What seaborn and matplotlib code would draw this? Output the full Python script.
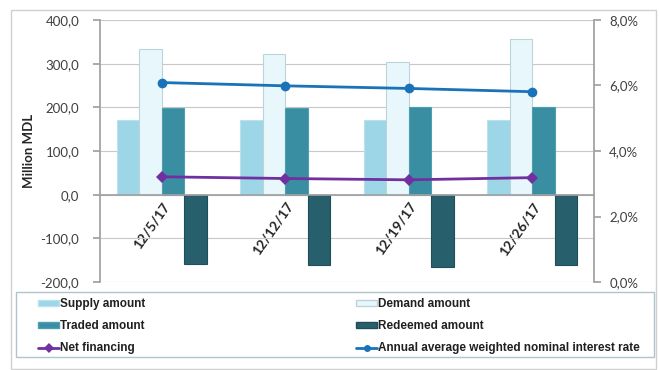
import matplotlib
matplotlib.use("Agg")
import matplotlib.pyplot as plt
from matplotlib.ticker import FuncFormatter, FixedLocator
from matplotlib.patches import Rectangle
from matplotlib.lines import Line2D
import seaborn as sns
import pandas as pd

# Auction results by settlement date
dates = ["12/5/17", "12/12/17", "12/19/17", "12/26/17"]
supply = [172, 172, 172, 172]
demand = [334, 323, 304, 357]
traded = [199, 198, 200, 200]
redeemed = [-158, -161, -166, -161]
net_financing = [41, 37, 34, 39]
interest_rate = [6.09, 5.99, 5.91, 5.81]

series_names = ["Supply amount", "Demand amount", "Traded amount", "Redeemed amount"]
bar_colors = ["#9dd6e6", "#e8f7fb", "#3a8ea2", "#27606c"]
bar_edges = ["#b8e2ee", "#bcd3da", "#4f9fb2", "#1f4e58"]
net_color = "#7030a0"
rate_color = "#1a72b8"

sns.set_theme(style="white")
plt.rcParams["font.family"] = ["Lato", "DejaVu Sans"]

long = pd.DataFrame({
    "date": dates * 4,
    "series": [n for n in series_names for _ in dates],
    "value": supply + demand + traded + redeemed,
})

W, H = 660, 370
fig = plt.figure(figsize=(W / 100, H / 100), dpi=100)


def box(x0, y0, x1, y1):
    """Figure-fraction rectangle from pixel corners measured from the top-left."""
    return (x0 / W, 1 - y1 / H, (x1 - x0) / W, (y1 - y0) / H)


# chart border and legend frame
bx = box(11, 10, 656, 369)
fig.patches.append(Rectangle(bx[:2], bx[2], bx[3], transform=fig.transFigure,
                             fill=False, edgecolor="#d0d0d0", lw=1.0))
lb = box(16, 292, 654, 357)
fig.patches.append(Rectangle(lb[:2], lb[2], lb[3], transform=fig.transFigure,
                             fill=False, edgecolor="#b0c4cc", lw=1.0))

ax = fig.add_axes(box(100, 20, 594, 282))

sns.barplot(data=long, x="date", y="value", hue="series", order=dates,
            hue_order=series_names, palette=bar_colors, width=0.73,
            dodge=True, ax=ax, legend=False, saturation=1)
for i, cont in enumerate(ax.containers):
    for p in cont:
        p.set_edgecolor(bar_edges[i])
        p.set_linewidth(0.8)

x = list(range(len(dates)))
sns.lineplot(x=x, y=net_financing, ax=ax, color=net_color, lw=2,
             marker="D", markersize=6, markeredgewidth=0)

ax.set_ylim(-200, 400)
ax.set_xlim(-0.5, 3.5)
ax.set_yticks(range(-200, 401, 100))
ax.yaxis.set_major_formatter(FuncFormatter(lambda v, p: f"{v:.1f}".replace(".", ",")))
ax.grid(axis="y", color="#c8c8c8", lw=0.8)
ax.set_axisbelow(True)
ax.set_ylabel("Million MDL", fontsize=9.5, fontweight="bold", labelpad=4)
ax.set_xlabel("")

for s in ["top", "right"]:
    ax.spines[s].set_visible(False)
ax.spines["left"].set_color("#a0a0a0")
ax.spines["bottom"].set_position(("data", 0))
ax.spines["bottom"].set_color("#a0a0a0")

ax.xaxis.set_major_locator(FixedLocator([0.5, 1.5, 2.5]))
ax.tick_params(axis="x", which="major", length=4, color="#a0a0a0",
               labelbottom=False, direction="out")
ax.set_xticks(x, minor=True)
ax.set_xticklabels(dates, minor=True, rotation=55, ha="right", va="top",
                   rotation_mode="anchor", fontsize=10, fontweight="bold")
ax.tick_params(axis="x", which="minor", length=0, pad=4)
ax.tick_params(axis="y", length=5, color="#a0a0a0", labelsize=9.5,
               labelcolor="#404040", direction="out", pad=10)

ax2 = ax.twinx()
sns.lineplot(x=x, y=interest_rate, ax=ax2, color=rate_color, lw=2,
             marker="o", markersize=7, markeredgewidth=0)
ax2.set_ylim(0, 8)
ax2.set_yticks([0, 2, 4, 6, 8])
ax2.yaxis.set_major_formatter(FuncFormatter(lambda v, p: f"{v:.1f}%".replace(".", ",")))
ax2.tick_params(axis="y", length=5, color="#a0a0a0", labelsize=9.5,
                labelcolor="#404040", direction="out", pad=6)
for s in ["top", "left", "bottom"]:
    ax2.spines[s].set_visible(False)
ax2.spines["right"].set_color("#a0a0a0")
ax2.grid(False)

legend_font = {"family": ["Liberation Sans", "DejaVu Sans"], "weight": "bold", "size": 8.5}
legend_kw = dict(loc="upper left", frameon=False, handlelength=1.8,
                 handleheight=0.4, handletextpad=0.1, labelspacing=0.86,
                 borderpad=0, borderaxespad=0, prop=legend_font)

left_handles = [
    Rectangle((0, 0), 1, 1, facecolor=bar_colors[0], edgecolor=bar_edges[0]),
    Rectangle((0, 0), 1, 1, facecolor=bar_colors[2], edgecolor=bar_edges[2]),
    Line2D([], [], color=net_color, lw=2, marker="D", markersize=5, markeredgewidth=0),
]
right_handles = [
    Rectangle((0, 0), 1, 1, facecolor=bar_colors[1], edgecolor=bar_edges[1]),
    Rectangle((0, 0), 1, 1, facecolor=bar_colors[3], edgecolor=bar_edges[3]),
    Line2D([], [], color=rate_color, lw=2, marker="o", markersize=5, markeredgewidth=0),
]
leg1 = fig.legend(left_handles, ["Supply amount", "Traded amount", "Net financing"],
                  bbox_to_anchor=(38 / W, 1 - 298 / H), **legend_kw)
leg2 = fig.legend(right_handles, ["Demand amount", "Redeemed amount",
                                  "Annual average weighted nominal interest rate"],
                  bbox_to_anchor=(356 / W, 1 - 298 / H), **legend_kw)
for lg in (leg1, leg2):
    for t in lg.get_texts():
        t.set_color("#202020")

fig.savefig("out.png", dpi=100)
